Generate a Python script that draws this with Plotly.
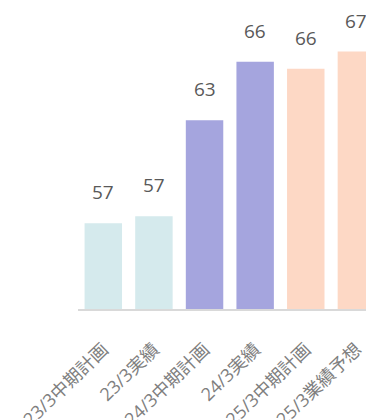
import plotly.graph_objects as go

# Categories and values (億円)
categories = ["23/3中期計画", "23/3実績", "24/3中期計画", "24/3実績", "25/3中期計画", "25/3業績予想"]
values = [57.0, 57.4, 63.0, 66.4, 66.0, 67.0]
bar_colors = ["#d5eaed", "#d5eaed", "#a5a5de", "#a5a5de", "#fdd8c5", "#fdd8c5"]

fig = go.Figure(
    go.Bar(
        x=categories,
        y=values,
        marker=dict(color=bar_colors, line=dict(width=0)),
        width=0.74,
        hoverinfo="skip",
    )
)

# Value labels above each bar
for cat, val in zip(categories, values):
    fig.add_annotation(
        x=cat,
        y=val,
        text=f"{val:.0f}",
        showarrow=False,
        yanchor="bottom",
        yshift=16,
        font=dict(family="Open Sans", size=19, color="#595959"),
    )

fig.update_layout(
    width=366,
    height=420,
    margin=dict(l=78, r=0, t=0, b=111, autoexpand=False),
    paper_bgcolor="white",
    plot_bgcolor="white",
    showlegend=False,
    font=dict(family="Open Sans, Noto Sans CJK JP", color="#7f7f7f"),
)
fig.update_xaxes(
    range=[-0.5, 5.19],
    automargin=False,
    showline=True,
    linecolor="#d9d9d9",
    linewidth=2,
    showgrid=False,
    ticks="",
    tickangle=-44,
    ticklabelstandoff=21,
    tickfont=dict(family="Open Sans, Noto Sans CJK JP", size=18, color="#7f7f7f"),
)
fig.update_yaxes(
    range=[52, 70],
    automargin=False,
    visible=False,
    showgrid=False,
)

fig.write_html("out.html")
